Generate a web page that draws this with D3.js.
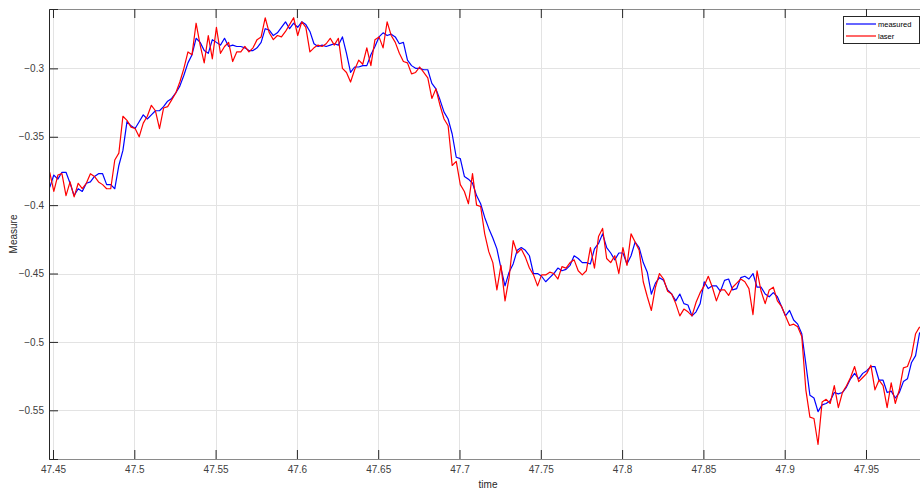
<!DOCTYPE html>
<html>
<head>
<meta charset="utf-8">
<script src="https://cdn.jsdelivr.net/npm/d3@7"></script>
<style>
  body { margin: 0; background: #fff; }
  svg { display: block; font-family: "Liberation Sans", Arial, sans-serif; }
</style>
</head>
<body>
<div id="chart"></div>
<script>
// sampled every dt seconds starting at t0
var t0 = 47.448;
var dt = 0.0025;

var measured = [
  -0.387, -0.378, -0.381, -0.376, -0.376, -0.384, -0.393, -0.388, -0.390, -0.384,
  -0.383, -0.379, -0.377, -0.377, -0.385, -0.385, -0.388, -0.371, -0.360, -0.339,
  -0.342, -0.344, -0.339, -0.334, -0.337, -0.334, -0.331, -0.331, -0.328, -0.324,
  -0.322, -0.318, -0.313, -0.305, -0.296, -0.290, -0.278, -0.281, -0.287, -0.289,
  -0.279, -0.281, -0.283, -0.278, -0.284, -0.283, -0.284, -0.284, -0.285, -0.287,
  -0.287, -0.285, -0.281, -0.271, -0.272, -0.276, -0.274, -0.270, -0.266, -0.271,
  -0.267, -0.270, -0.266, -0.268, -0.273, -0.282, -0.284, -0.283, -0.284, -0.283,
  -0.282, -0.283, -0.277, -0.289, -0.303, -0.299, -0.299, -0.298, -0.298, -0.290,
  -0.284, -0.277, -0.274, -0.276, -0.275, -0.277, -0.282, -0.281, -0.294, -0.298,
  -0.300, -0.300, -0.301, -0.301, -0.311, -0.315, -0.323, -0.332, -0.337, -0.348,
  -0.365, -0.366, -0.379, -0.381, -0.384, -0.393, -0.399, -0.409, -0.417, -0.424,
  -0.432, -0.446, -0.459, -0.449, -0.443, -0.433, -0.431, -0.433, -0.437, -0.450,
  -0.450, -0.452, -0.456, -0.453, -0.450, -0.446, -0.448, -0.447, -0.444, -0.437,
  -0.439, -0.442, -0.442, -0.443, -0.432, -0.428, -0.421, -0.431, -0.435, -0.440,
  -0.435, -0.435, -0.443, -0.437, -0.427, -0.431, -0.442, -0.449, -0.465, -0.457,
  -0.453, -0.455, -0.462, -0.465, -0.470, -0.465, -0.472, -0.473, -0.481, -0.478,
  -0.472, -0.456, -0.461, -0.459, -0.459, -0.463, -0.455, -0.454, -0.462, -0.461,
  -0.453, -0.452, -0.454, -0.450, -0.460, -0.460, -0.465, -0.467, -0.464, -0.467,
  -0.474, -0.481, -0.477, -0.484, -0.487, -0.494, -0.516, -0.539, -0.541, -0.551,
  -0.546, -0.545, -0.543, -0.537, -0.538, -0.537, -0.533, -0.527, -0.523, -0.527,
  -0.523, -0.521, -0.518, -0.518, -0.528, -0.528, -0.537, -0.536, -0.541, -0.537,
  -0.529, -0.527, -0.515, -0.510, -0.493
];

var laser = [
  -0.376, -0.390, -0.378, -0.377, -0.393, -0.383, -0.394, -0.384, -0.388, -0.384,
  -0.377, -0.379, -0.383, -0.385, -0.388, -0.388, -0.367, -0.362, -0.335, -0.338,
  -0.343, -0.344, -0.350, -0.340, -0.335, -0.327, -0.331, -0.344, -0.329, -0.328,
  -0.323, -0.318, -0.310, -0.300, -0.288, -0.290, -0.267, -0.283, -0.296, -0.276,
  -0.293, -0.270, -0.289, -0.284, -0.281, -0.295, -0.288, -0.288, -0.284, -0.288,
  -0.285, -0.279, -0.277, -0.263, -0.274, -0.279, -0.276, -0.277, -0.273, -0.268,
  -0.263, -0.276, -0.266, -0.270, -0.288, -0.285, -0.283, -0.284, -0.282, -0.278,
  -0.283, -0.278, -0.300, -0.303, -0.310, -0.301, -0.294, -0.297, -0.285, -0.298,
  -0.279, -0.277, -0.285, -0.266, -0.276, -0.281, -0.289, -0.295, -0.296, -0.304,
  -0.303, -0.299, -0.303, -0.307, -0.322, -0.315, -0.327, -0.337, -0.342, -0.371,
  -0.368, -0.385, -0.390, -0.399, -0.377, -0.400, -0.401, -0.421, -0.434, -0.442,
  -0.462, -0.444, -0.470, -0.453, -0.426, -0.435, -0.432, -0.438, -0.446, -0.451,
  -0.459, -0.451, -0.451, -0.449, -0.450, -0.454, -0.445, -0.446, -0.442, -0.440,
  -0.448, -0.451, -0.448, -0.431, -0.446, -0.423, -0.417, -0.439, -0.442, -0.437,
  -0.450, -0.431, -0.444, -0.421, -0.427, -0.433, -0.456, -0.467, -0.477, -0.460,
  -0.450, -0.454, -0.463, -0.465, -0.472, -0.481, -0.476, -0.478, -0.481, -0.471,
  -0.464, -0.459, -0.452, -0.460, -0.470, -0.462, -0.462, -0.466, -0.460, -0.457,
  -0.454, -0.456, -0.461, -0.480, -0.448, -0.463, -0.472, -0.462, -0.460, -0.470,
  -0.474, -0.481, -0.488, -0.487, -0.489, -0.496, -0.535, -0.555, -0.556, -0.575,
  -0.544, -0.542, -0.545, -0.532, -0.548, -0.537, -0.532, -0.526, -0.518, -0.529,
  -0.526, -0.523, -0.517, -0.535, -0.528, -0.532, -0.548, -0.530, -0.545, -0.535,
  -0.519, -0.518, -0.510, -0.494, -0.489
];

var xTicks = [47.45, 47.5, 47.55, 47.6, 47.65, 47.7, 47.75, 47.8, 47.85, 47.9, 47.95];
var yTicks = [-0.55, -0.5, -0.45, -0.4, -0.35, -0.3];
var seriesNames = ['measured', 'laser'];
var seriesColors = ['#0000ff', '#ff0000'];

var width = 920,
    height = 491;

var margin = { top: 9, left: 49, bottom: 32 },
    plotW = 871,
    plotH = height - margin.top - margin.bottom;

var x = d3.scaleLinear()
    .domain([47.44754, 47.44754 + plotW / 1626])
    .range([0, plotW]);

var y = d3.scaleLinear()
    .domain([-0.5856, -0.2566])
    .range([plotH, 0]);

var svg = d3.select('#chart')
    .append('svg')
    .attr('width', width)
    .attr('height', height);

var g = svg.append('g')
    .attr('transform', 'translate(' + margin.left + ',' + margin.top + ')');

// grid
g.append('g').selectAll('line')
    .data(xTicks)
    .enter()
    .append('line')
    .attr('x1', d => Math.round(x(d)) + 0.5)
    .attr('x2', d => Math.round(x(d)) + 0.5)
    .attr('y1', 0)
    .attr('y2', plotH)
    .attr('stroke', '#e3e3e3');

g.append('g').selectAll('line')
    .data(yTicks)
    .enter()
    .append('line')
    .attr('y1', d => Math.round(y(d)) + 0.5)
    .attr('y2', d => Math.round(y(d)) + 0.5)
    .attr('x1', 0)
    .attr('x2', plotW)
    .attr('stroke', '#e3e3e3');

// lines
svg.append('clipPath')
    .attr('id', 'clip')
    .append('rect')
    .attr('width', plotW)
    .attr('height', plotH);

var line = d3.line()
    .x((d, i) => x(t0 + i * dt))
    .y(d => y(d));

g.append('g')
    .attr('clip-path', 'url(#clip)')
    .selectAll('path')
    .data([measured, laser])
    .enter()
    .append('path')
    .attr('d', line)
    .attr('fill', 'none')
    .attr('stroke', (d, i) => seriesColors[i])
    .attr('stroke-width', 1.2)
    .attr('stroke-linejoin', 'round');

// axes
var xAxis = g.append('g')
    .attr('transform', 'translate(0,' + plotH + ')')
    .call(d3.axisBottom(x).tickValues(xTicks).tickSize(-9).tickPadding(7).tickFormat(d3.format('')));

var xTop = g.append('g')
    .call(d3.axisTop(x).tickValues(xTicks).tickSize(-9).tickFormat(''));

var yAxis = g.append('g')
    .call(d3.axisLeft(y).tickValues(yTicks).tickSize(-9).tickPadding(5).tickFormat(d3.format('')));

[xAxis, xTop, yAxis].forEach(function (a) {
    a.select('.domain').attr('stroke', '#262626');
    a.selectAll('.tick line').attr('stroke', '#262626');
    a.selectAll('.tick text')
        .attr('fill', '#404040')
        .style('font-size', '10px')
        .style('font-family', '"Liberation Sans", Arial, sans-serif');
});
xAxis.select('.domain').attr('stroke', '#8a8a8a');
xTop.select('.domain').attr('stroke', '#8a8a8a');

svg.append('text')
    .attr('x', 488)
    .attr('y', 488)
    .attr('text-anchor', 'middle')
    .attr('fill', '#262626')
    .style('font-size', '10px')
    .text('time');

svg.append('text')
    .attr('transform', 'translate(17,' + (margin.top + plotH / 2) + ') rotate(-90)')
    .attr('text-anchor', 'middle')
    .attr('fill', '#262626')
    .style('font-size', '10px')
    .text('Measure');

// legend
var legend = svg.append('g')
    .attr('transform', 'translate(843,16)');

legend.append('rect')
    .attr('x', 0.5)
    .attr('y', 0.5)
    .attr('width', 76)
    .attr('height', 27)
    .attr('fill', '#fff')
    .attr('stroke', '#262626');

var item = legend.selectAll('.item')
    .data(seriesNames)
    .enter()
    .append('g')
    .attr('class', 'item')
    .attr('transform', (d, i) => 'translate(0,' + (8 + i * 12) + ')');

item.append('line')
    .attr('x1', 3)
    .attr('x2', 33)
    .attr('stroke', (d, i) => seriesColors[i])
    .attr('stroke-width', 1.2);

item.append('text')
    .attr('x', 35)
    .attr('y', 3)
    .attr('fill', '#000')
    .style('font-size', '7.5px')
    .text(d => d);
</script>
</body>
</html>
